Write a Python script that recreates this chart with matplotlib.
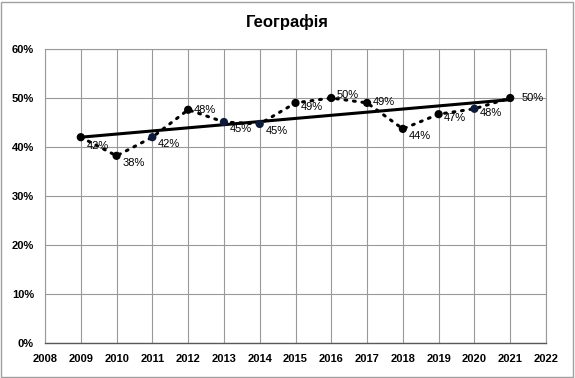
import numpy as np
import matplotlib
matplotlib.use("Agg")
import matplotlib.pyplot as plt
from matplotlib.patches import Rectangle

years = [2009, 2010, 2011, 2012, 2013, 2014, 2015, 2016, 2017, 2018, 2019, 2020, 2021]
values = [42.0, 38.2, 42.0, 47.6, 45.1, 44.7, 49.0, 50.0, 49.0, 43.7, 46.7, 47.8, 50.0]
labels = ["42%", "38%", "42%", "48%", "45%", "45%", "49%", "50%", "49%", "44%", "47%", "48%", "50%"]
marker_colors = ["#000000", "#000000", "#0d1a3a", "#000000", "#0d1a3a", "#0d1a3a", "#000000",
                 "#000000", "#000000", "#000000", "#000000", "#0d1a3a", "#000000"]
# label offsets in points (dx, dy)
label_offsets = [(4, -6), (4, -5), (4, -5), (4, 0), (4, -5), (4, -5), (4, -3),
                 (4, 2), (4, 1), (4, -5), (4, -3), (4, -3), (8, 0)]
x_ticks = list(range(2008, 2023))
y_ticks = [0, 10, 20, 30, 40, 50, 60]

plt.rcParams["font.family"] = ["Liberation Sans", "DejaVu Sans"]

fig = plt.figure(figsize=(5.75, 3.78), dpi=100)
ax = fig.add_axes([45 / 575, 1 - 343 / 378, (546 - 45) / 575, (343 - 49) / 378])

# trend line (linear fit)
k, b = np.polyfit(years, values, 1)
tx = np.array([years[0], years[-1]])
ax.plot(tx, k * tx + b, color="black", lw=2.2, zorder=3)

ax.plot(years, values, color="black", lw=2.2, linestyle=(0, (0.6, 2.2)),
        dash_capstyle="round", zorder=4)
ax.scatter(years, values, s=24, c=marker_colors, zorder=5)

for x, y, lab, (dx, dy) in zip(years, values, labels, label_offsets):
    ax.annotate(lab, (x, y), xytext=(dx, dy), textcoords="offset points",
                fontsize=8, va="center", ha="left", zorder=6)

ax.set_xlim(2008, 2022)
ax.set_ylim(0, 60)
ax.set_xticks(x_ticks)
ax.set_xticklabels([str(t) for t in x_ticks], fontsize=8, fontweight="bold")
ax.set_yticks(y_ticks)
ax.set_yticklabels([f"{t}%" for t in y_ticks], fontsize=8, fontweight="bold")
ax.tick_params(length=0, pad=8)
ax.grid(True, color="#999999", lw=0.8)
for s in ["top", "right", "left"]:
    ax.spines[s].set_color("#999999")
    ax.spines[s].set_linewidth(0.8)
ax.spines["bottom"].set_color("#595959")
ax.spines["bottom"].set_linewidth(1)

fig.text(0.5, 1 - 22 / 378, "Географія", ha="center", va="center",
         fontsize=12, fontweight="bold")

fig.patches.append(Rectangle((0.002, 0.003), 0.995, 0.993, transform=fig.transFigure,
                             fill=False, edgecolor="#a0a0a0", lw=1))

fig.savefig("out.png", dpi=100)
